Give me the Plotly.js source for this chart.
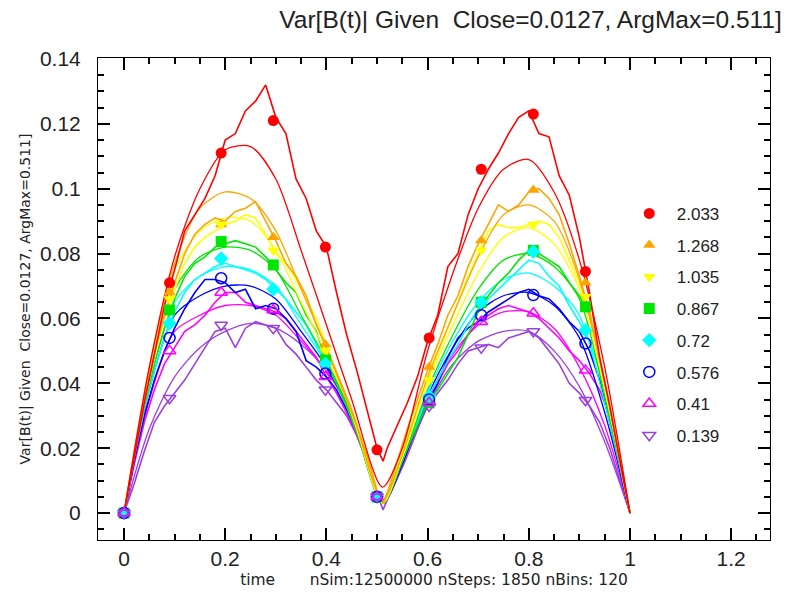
<!DOCTYPE html>
<html>
<head>
<meta charset="utf-8">
<script src="https://cdn.plot.ly/plotly-3.0.1.min.js"></script>
<style>
  html, body { margin: 0; padding: 0; background: #fff; }
  #chart { width: 786px; height: 598px; }
</style>
</head>
<body>
<div id="chart"></div>
<script>
// ---------- data ----------
const LABELS = ["2.033", "1.268", "1.035", "0.867", "0.72", "0.576", "0.41", "0.139"];
const COLORS = ["#ff0000", "#ffa500", "#ffff00", "#00e600", "#00ffff", "#0000ff", "#ff00ff", "#9b40e0"];
const SYMBOLS = ["circle", "triangle-up", "triangle-down", "square", "diamond", "circle-open", "triangle-up-open", "triangle-down-open"];

// tick positions
const X_MAJOR = [0, 0.2, 0.4, 0.6, 0.8, 1.0, 1.2];
const Y_MAJOR = [0, 0.02, 0.04, 0.06, 0.08, 0.1, 0.12, 0.14];

// simulated (noisy) curves
const SIM_X = [0,0.02,0.04,0.06,0.08,0.10,0.12,0.14,0.16,0.18,0.20,0.22,0.24,0.26,0.28,0.30,0.32,0.34,0.36,0.38,0.40,0.42,0.44,0.46,0.48,0.50,0.512,0.52,0.54,0.56,0.58,0.60,0.62,0.64,0.66,0.68,0.70,0.72,0.74,0.76,0.78,0.80,0.82,0.84,0.86,0.88,0.90,0.92,0.94,0.96,0.98,1.0];
const SIM_RED     = [0,0.017,0.034,0.049,0.064,0.075,0.087,0.092,0.097,0.104,0.115,0.117,0.124,0.127,0.132,0.122,0.117,0.103,0.097,0.087,0.082,0.068,0.055,0.044,0.032,0.020,0.016,0.020,0.027,0.034,0.042,0.053,0.061,0.076,0.080,0.092,0.100,0.106,0.111,0.117,0.122,0.124,0.117,0.116,0.104,0.098,0.085,0.068,0.048,0.033,0.016,0];
const SIM_ORANGE  = [0,0.018,0.035,0.049,0.061,0.071,0.080,0.086,0.089,0.091,0.090,0.093,0.094,0.096,0.090,0.084,0.077,0.073,0.067,0.058,0.051,0.043,0.035,0.027,0.018,0.007,0.003,0.006,0.016,0.026,0.035,0.044,0.052,0.061,0.067,0.076,0.083,0.089,0.095,0.093,0.095,0.099,0.100,0.097,0.092,0.083,0.073,0.062,0.048,0.033,0.017,0];
const SIM_YELLOW  = [0,0.018,0.034,0.048,0.060,0.069,0.077,0.082,0.085,0.087,0.089,0.090,0.092,0.091,0.086,0.080,0.077,0.072,0.066,0.060,0.052,0.043,0.035,0.026,0.017,0.006,0.003,0.006,0.015,0.024,0.033,0.041,0.049,0.057,0.065,0.073,0.080,0.087,0.089,0.088,0.088,0.089,0.090,0.089,0.085,0.078,0.071,0.062,0.048,0.032,0.016,0];
const SIM_GREEN   = [0,0.018,0.033,0.046,0.057,0.066,0.073,0.077,0.079,0.082,0.083,0.084,0.083,0.082,0.079,0.075,0.071,0.068,0.061,0.056,0.047,0.040,0.033,0.025,0.016,0.006,0.003,0.006,0.013,0.020,0.027,0.034,0.038,0.043,0.048,0.055,0.062,0.067,0.071,0.074,0.078,0.081,0.080,0.078,0.076,0.071,0.067,0.061,0.048,0.032,0.016,0];
const SIM_CYAN    = [0,0.017,0.032,0.044,0.054,0.062,0.068,0.072,0.074,0.076,0.077,0.076,0.075,0.074,0.072,0.069,0.066,0.062,0.058,0.052,0.046,0.040,0.033,0.025,0.016,0.006,0.003,0.006,0.013,0.020,0.028,0.036,0.041,0.047,0.052,0.058,0.063,0.066,0.069,0.072,0.075,0.078,0.077,0.073,0.070,0.064,0.059,0.053,0.044,0.030,0.015,0];
const SIM_BLUE    = [0,0.016,0.030,0.041,0.050,0.057,0.063,0.068,0.072,0.072,0.071,0.068,0.069,0.063,0.064,0.063,0.060,0.056,0.047,0.045,0.042,0.038,0.032,0.025,0.016,0.006,0.003,0.006,0.013,0.020,0.027,0.034,0.040,0.048,0.054,0.057,0.059,0.062,0.064,0.066,0.068,0.069,0.067,0.066,0.063,0.059,0.056,0.050,0.041,0.028,0.014,0];
const SIM_MAGENTA = [0,0.015,0.028,0.038,0.046,0.051,0.056,0.058,0.061,0.065,0.068,0.068,0.065,0.064,0.063,0.062,0.060,0.056,0.052,0.048,0.042,0.037,0.031,0.024,0.016,0.006,0.003,0.006,0.013,0.020,0.027,0.034,0.040,0.046,0.050,0.055,0.059,0.061,0.063,0.064,0.063,0.062,0.060,0.057,0.054,0.050,0.047,0.043,0.038,0.030,0.015,0];
const SIM_PURPLE  = [0,0.009,0.019,0.028,0.033,0.037,0.041,0.046,0.051,0.056,0.057,0.051,0.057,0.059,0.058,0.057,0.052,0.049,0.045,0.041,0.038,0.034,0.030,0.024,0.016,0.006,0.001,0.004,0.012,0.019,0.026,0.033,0.037,0.041,0.046,0.050,0.051,0.052,0.051,0.054,0.055,0.056,0.054,0.050,0.046,0.040,0.037,0.033,0.028,0.020,0.010,0];

// theoretical (smooth) curves
const TH_X = [0,0.05,0.1,0.15,0.2,0.25,0.3,0.35,0.4,0.45,0.511,0.55,0.6,0.65,0.7,0.75,0.8,0.85,0.9,0.95,1];
const TH_RED     = [0,0.045,0.079,0.100,0.112,0.113,0.103,0.081,0.058,0.035,0.008,0.020,0.050,0.074,0.094,0.106,0.109,0.099,0.078,0.045,0];
const TH_ORANGE  = [0,0.045,0.077,0.094,0.099,0.097,0.087,0.069,0.051,0.032,0.004,0.018,0.042,0.061,0.079,0.092,0.095,0.090,0.072,0.040,0];
const TH_YELLOW  = [0,0.044,0.075,0.087,0.091,0.090,0.081,0.065,0.049,0.031,0.003,0.017,0.040,0.058,0.074,0.085,0.088,0.083,0.069,0.038,0];
const TH_GREEN   = [0,0.042,0.069,0.079,0.082,0.081,0.075,0.061,0.047,0.030,0.003,0.016,0.038,0.055,0.069,0.078,0.080,0.076,0.066,0.036,0];
const TH_CYAN    = [0,0.040,0.065,0.073,0.076,0.075,0.070,0.058,0.046,0.030,0.003,0.016,0.037,0.053,0.065,0.072,0.074,0.070,0.061,0.034,0];
const TH_BLUE    = [0,0.038,0.061,0.067,0.070,0.070,0.066,0.056,0.045,0.030,0.003,0.015,0.036,0.051,0.062,0.067,0.068,0.064,0.054,0.031,0];
const TH_MAGENTA = [0,0.035,0.056,0.061,0.064,0.064,0.061,0.053,0.044,0.030,0.003,0.015,0.035,0.049,0.058,0.062,0.062,0.057,0.045,0.027,0];
const TH_PURPLE  = [0,0.026,0.042,0.051,0.056,0.0585,0.057,0.052,0.044,0.031,0.003,0.014,0.033,0.046,0.053,0.056,0.056,0.050,0.039,0.022,0];

// marker points
const MK_X = [0,0.09,0.192,0.295,0.398,0.5,0.603,0.706,0.809,0.912];
const MK_RED     = [0,0.071,0.111,0.121,0.082,0.0195,0.054,0.106,0.123,0.0745];
const MK_ORANGE  = [0,0.068,0.089,0.085,0.052,0.005,0.045,0.084,0.0996,0.071];
const MK_YELLOW  = [0,0.066,0.089,0.081,0.050,0.005,0.041,0.081,0.089,0.0667];
const MK_GREEN   = [0,0.0626,0.0837,0.0765,0.0472,0.005,0.034,0.065,0.081,0.0636];
const MK_CYAN    = [0,0.0585,0.0785,0.069,0.046,0.005,0.036,0.065,0.0806,0.0564];
const MK_BLUE    = [0,0.054,0.0724,0.063,0.043,0.005,0.035,0.061,0.0672,0.0523];
const MK_MAGENTA = [0,0.050,0.068,0.0626,0.042,0.005,0.034,0.059,0.0616,0.044];
const MK_PURPLE  = [0,0.0354,0.058,0.057,0.038,0.005,0.033,0.051,0.056,0.0348];

const SIM = [SIM_RED, SIM_ORANGE, SIM_YELLOW, SIM_GREEN, SIM_CYAN, SIM_BLUE, SIM_MAGENTA, SIM_PURPLE];
const TH  = [TH_RED, TH_ORANGE, TH_YELLOW, TH_GREEN, TH_CYAN, TH_BLUE, TH_MAGENTA, TH_PURPLE];
const MK  = [MK_RED, MK_ORANGE, MK_YELLOW, MK_GREEN, MK_CYAN, MK_BLUE, MK_MAGENTA, MK_PURPLE];

// ---------- traces ----------
const traces = [];
for (let i = LABELS.length - 1; i >= 0; i--) {
  traces.push({
    x: TH_X, y: TH[i], type: "scatter", mode: "lines",
    line: { color: COLORS[i], width: 1.3, shape: "spline", smoothing: 0.8 },
    showlegend: false, legendgroup: "g" + i, hoverinfo: "skip"
  });
  traces.push({
    x: SIM_X, y: SIM[i], type: "scatter", mode: "lines",
    line: { color: COLORS[i], width: 1.6 },
    showlegend: false, legendgroup: "g" + i, hoverinfo: "skip"
  });
}
for (let i = 0; i < LABELS.length; i++) {
  traces.push({
    x: MK_X, y: MK[i], type: "scatter", mode: "markers", name: LABELS[i],
    legendgroup: "g" + i,
    marker: { color: COLORS[i], symbol: SYMBOLS[i], size: 11,
              line: { color: COLORS[i], width: SYMBOLS[i].indexOf("open") >= 0 ? 1.5 : 0 } }
  });
}

const FONT = "Liberation Sans, Arial, sans-serif";
const TFONT = "DejaVu Sans, Liberation Sans, sans-serif";
const layout = {
  width: 786, height: 598,
  margin: { l: 98, r: 16, t: 58, b: 58 },
  paper_bgcolor: "#ffffff", plot_bgcolor: "#ffffff",
  font: { family: FONT, color: "#222", size: 20 },
  title: {
    text: "Var[B(t)| Given  Close=0.0127, ArgMax=0.511]",
    font: { family: FONT, size: 24.5, color: "#222" },
    x: 0.675, xanchor: "center", xref: "container",
    y: 0.968, yanchor: "middle", yref: "container"
  },
  showlegend: true,
  legend: {
    x: 0.7794, y: 0.714, xanchor: "left", yanchor: "top",
    bgcolor: "rgba(0,0,0,0)", borderwidth: 0,
    font: { family: FONT, size: 17, color: "#222" },
    itemwidth: 45,
    traceorder: "grouped", tracegroupgap: 6.6
  },
  xaxis: {
    range: [-0.0514, 1.2767], autorange: false,
    tickmode: "array", tickvals: X_MAJOR,
    ticks: "inside", ticklen: 12, tickwidth: 1.6, tickcolor: "#000000",
    minor: { dtick: 0.05, tick0: 0, ticks: "inside", ticklen: 6, tickwidth: 1.6, tickcolor: "#000000" },
    showline: true, linecolor: "#000000", linewidth: 1, mirror: "allticks",
    showgrid: false, zeroline: false,
    tickfont: { family: FONT, size: 21, color: "#222" },
    title: { text: "time\u00a0\u00a0\u00a0\u00a0\u00a0\u00a0\u00a0nSim:12500000 nSteps: 1850 nBins: 120",
             font: { family: TFONT, size: 15.5, color: "#222" }, standoff: 4 }
  },
  yaxis: {
    range: [-0.0083, 0.1403], autorange: false,
    tickmode: "array", tickvals: Y_MAJOR,
    ticks: "inside", ticklen: 12, tickwidth: 1.6, tickcolor: "#000000",
    minor: { dtick: 0.005, tick0: 0, ticks: "inside", ticklen: 6, tickwidth: 1.6, tickcolor: "#000000" },
    showline: true, linecolor: "#000000", linewidth: 1, mirror: "allticks",
    showgrid: false, zeroline: false,
    tickfont: { family: FONT, size: 21, color: "#222" },
    ticklabelstandoff: 12,
    title: { text: "Var[B(t)| Given  Close=0.0127, ArgMax=0.511]",
             font: { family: TFONT, size: 14, color: "#222" }, standoff: 6 }
  }
};

Plotly.newPlot("chart", traces, layout, { displayModeBar: false });
</script>
</body>
</html>
